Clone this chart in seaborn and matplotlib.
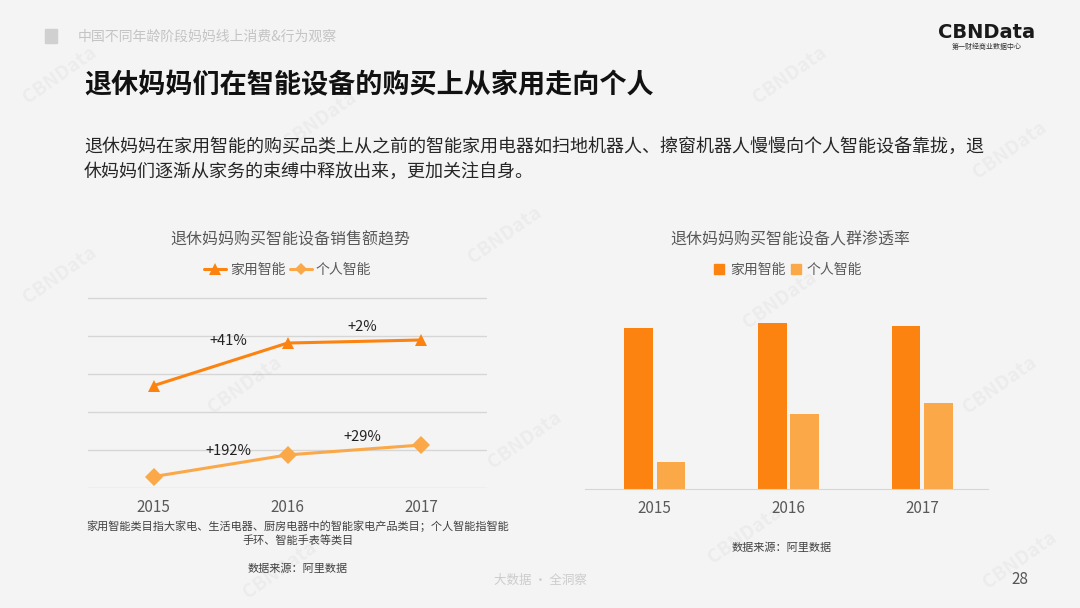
import numpy as np
import pandas as pd
import seaborn as sns
import matplotlib.pyplot as plt
from matplotlib.lines import Line2D
from matplotlib.patches import Patch

sns.set_style("white")
plt.rcParams['font.family'] = ['Noto Sans CJK SC', 'DejaVu Sans']

# data
years = [2015, 2016, 2017]
series = ['家用智能', '个人智能']
sales_home = [2.69, 3.81, 3.89]
sales_personal = [0.30, 0.87, 1.13]
sales_growth_home = ['+41%', '+2%']
sales_growth_personal = ['+192%', '+29%']
reach_home = [16.1, 16.6, 16.3]
reach_personal = [2.7, 7.5, 8.6]

c_home = '#fc8310'
c_pers = '#fba848'
gray = '#595959'
W, H = 1080, 608


def fx(x):
    return x / W


def fy(y):
    return 1 - y / H


fig = plt.figure(figsize=(10.8, 6.08), dpi=100)
fig.patch.set_facecolor('#f4f4f4')

# faint watermarks
for wx, wy in [(60, 75), (320, 120), (790, 75), (1010, 150), (505, 235), (60, 275),
               (245, 385), (780, 300), (1000, 385), (525, 440), (745, 535), (280, 570), (1020, 560)]:
    fig.text(fx(wx), fy(wy), 'CBNData', rotation=35, fontsize=14, fontweight='bold',
             color='#000000', alpha=0.035, ha='center', va='center')

# header
fig.patches.append(plt.Rectangle((fx(45), fy(43)), fx(12), 14 / H, transform=fig.transFigure,
                                 color='#d0d0d0'))
fig.text(fx(78), fy(37), '中国不同年龄阶段妈妈线上消费&行为观察', fontsize=10, color='#c4c4c4',
         va='center')
fig.text(fx(987), fy(32), 'CBNData', fontsize=14, fontweight='bold', color='#1a1a1a',
         ha='center', va='center', family=['DejaVu Sans'])
fig.text(fx(987), fy(47), '第一财经商业数据中心', fontsize=5, color='#333333', ha='center', va='center')

fig.text(fx(84), fy(85), '退休妈妈们在智能设备的购买上从家用走向个人', fontsize=19.5, color='#111111',
         va='center', fontweight='bold')
fig.text(fx(84), fy(147), '退休妈妈在家用智能的购买品类上从之前的智能家用电器如扫地机器人、擦窗机器人慢慢向个人智能设备靠拢，退',
         fontsize=13, color='#262626', va='center')
fig.text(fx(84), fy(172), '休妈妈们逐渐从家务的束缚中释放出来，更加关注自身。',
         fontsize=13, color='#262626', va='center')

# ---- left: sales trend line chart ----
ax1 = fig.add_axes([fx(88), fy(488), 399 / W, 191 / H])
ax1.set_facecolor('none')
df_sales = pd.DataFrame({
    'year': years * 2,
    'value': sales_home + sales_personal,
    'kind': [series[0]] * 3 + [series[1]] * 3,
})
sns.lineplot(data=df_sales, x='year', y='value', hue='kind', style='kind',
             palette=[c_home, c_pers], markers={series[0]: '^', series[1]: 'D'},
             dashes=False, markersize=9, linewidth=2.2, markeredgewidth=0,
             legend=False, ax=ax1)
ax1.set_xlim(2014.51, 2017.49)
ax1.set_ylim(0, 5.02)
ax1.set_yticks(range(6))
ax1.yaxis.grid(True, color='#d6d6d6', linewidth=1)
ax1.tick_params(axis='y', left=False, labelleft=False)
ax1.set_xticks(years)
ax1.set_xticklabels([str(y) for y in years])
ax1.tick_params(axis='x', length=0, pad=8, labelsize=11, labelcolor=gray)
for s in ['top', 'right', 'left', 'bottom']:
    ax1.spines[s].set_visible(False)
ax1.set_xlabel('')
ax1.set_ylabel('')

off_home = [0.62, 0.39]
off_pers = [0.39, 0.34]
for i, lab in enumerate(sales_growth_home):
    mid = (sales_home[i] + sales_home[i + 1]) / 2
    ax1.text(years[i] + 0.56, mid + off_home[i], lab,
             fontsize=10.5, color='#222222', ha='center', va='center')
for i, lab in enumerate(sales_growth_personal):
    mid = (sales_personal[i] + sales_personal[i + 1]) / 2
    ax1.text(years[i] + 0.56, mid + off_pers[i], lab,
             fontsize=10.5, color='#222222', ha='center', va='center')

fig.text(fx(290), fy(240), '退休妈妈购买智能设备销售额趋势', fontsize=11.5, color=gray,
         ha='center', va='center')
h1 = [Line2D([], [], color=c_home, marker='^', markersize=8, lw=2.2, markeredgewidth=0),
      Line2D([], [], color=c_pers, marker='D', markersize=6, lw=2.2, markeredgewidth=0)]
ax1.legend(h1, series, loc='center', bbox_to_anchor=(0.5, 1.141), ncol=2, frameon=False,
           fontsize=10, labelcolor=gray, handlelength=1.6, handletextpad=0.3, columnspacing=0.3)

fig.text(fx(298), fy(526), '家用智能类目指大家电、生活电器、厨房电器中的智能家电产品类目；个人智能指智能',
         fontsize=8, color='#404040', ha='center', va='center')
fig.text(fx(298), fy(541), '手环、智能手表等类目', fontsize=8, color='#404040', ha='center', va='center')
fig.text(fx(298), fy(569), '数据来源：阿里数据', fontsize=8, color='#404040', ha='center', va='center')

# ---- right: penetration bar chart ----
ax2 = fig.add_axes([fx(585), fy(489), 403 / W, 192 / H])
ax2.set_facecolor('none')
df_reach = pd.DataFrame({
    'year': [str(y) for y in years] * 2,
    'value': reach_home + reach_personal,
    'kind': [series[0]] * 3 + [series[1]] * 3,
})
sns.barplot(data=df_reach, x='year', y='value', hue='kind', palette=[c_home, c_pers],
            width=0.49, gap=0.12, saturation=1, linewidth=0, legend=False, ax=ax2)
ax2.set_xlim(-0.52, 2.49)
ax2.set_ylim(0, 19.2)
ax2.tick_params(axis='y', left=False, labelleft=False)
ax2.tick_params(axis='x', length=0, pad=8, labelsize=11, labelcolor=gray)
for s in ['top', 'right', 'left']:
    ax2.spines[s].set_visible(False)
ax2.spines['bottom'].set_color('#d6d6d6')
ax2.set_xlabel('')
ax2.set_ylabel('')

fig.text(fx(790), fy(240), '退休妈妈购买智能设备人群渗透率', fontsize=11.5, color=gray,
         ha='center', va='center')
h2 = [Patch(color=c_home), Patch(color=c_pers)]
ax2.legend(h2, series, loc='center', bbox_to_anchor=((788 - 585) / 403, (489 - 270) / 192), ncol=2,
           frameon=False, fontsize=10, labelcolor=gray, handlelength=0.7, handleheight=0.7,
           handletextpad=0.4, columnspacing=0.4)
fig.text(fx(782), fy(548), '数据来源：阿里数据', fontsize=8, color='#404040', ha='center', va='center')

# footer
fig.text(fx(540), fy(580), '大数据 · 全洞察', fontsize=9, color='#cccccc', ha='center', va='center')
fig.text(fx(1020), fy(579), '28', fontsize=11, color='#555555', ha='center', va='center')

fig.savefig('out.png', dpi=100, facecolor=fig.get_facecolor())
